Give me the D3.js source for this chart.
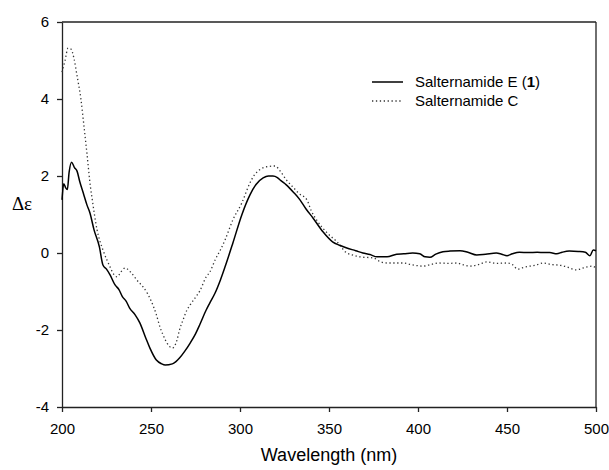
<!DOCTYPE html>
<html>
<head>
<meta charset="utf-8">
<script src="https://cdn.jsdelivr.net/npm/d3@7"></script>
<style>
  body { margin: 0; background: #fff; }
  text { font-family: "Liberation Sans", Arial, sans-serif; fill: #000; }
</style>
</head>
<body>
<div id="chart"></div>
<script>
// Salternamide E (1), solid line: [wavelength, delta epsilon]
var seriesE = [
    [200, 1.38], [201, 1.8], [202, 1.7], [203, 1.65], [204, 2.1], [205.4, 2.36], [207, 2.22],
    [208.5, 2.12], [210, 1.85], [212, 1.55], [214, 1.25], [215.7, 1.04], [218, 0.6], [221, 0.16],
    [223, -0.31], [225, -0.42], [227, -0.57], [229.8, -0.83], [232, -0.95], [234, -1.14],
    [236, -1.25], [238, -1.43], [241, -1.6], [243.8, -1.82], [247, -2.2], [249.4, -2.47],
    [253, -2.78], [256, -2.88], [258, -2.91], [262, -2.88], [264, -2.82], [266, -2.73],
    [269, -2.55], [272, -2.34], [275, -2.1], [277.5, -1.85], [281, -1.48], [283, -1.3],
    [286, -1.04], [289, -0.7], [291.6, -0.36], [296, 0.26], [301, 0.99], [305.6, 1.51],
    [309, 1.78], [313, 1.95], [316, 2.0], [318.5, 2.0], [321, 1.96], [323, 1.88], [326, 1.77],
    [330, 1.58], [333.7, 1.38], [337, 1.15], [341, 0.91], [346.6, 0.55], [352, 0.29],
    [356, 0.2], [360, 0.13], [365, 0.06], [369, 0.0], [373, -0.04], [377, -0.1],
    [382.6, -0.1], [388, -0.03], [392, -0.02], [397, 0.0], [401, -0.02], [404, -0.1],
    [406.7, -0.11], [410, -0.03], [414, 0.03], [418, 0.05], [423.6, 0.06], [428, 0.02],
    [433, -0.05], [438, -0.03], [444, 0.0], [447, -0.03], [450, -0.07], [453, -0.02],
    [457, 0.02], [462, 0.01], [467, 0.02], [471, 0.01], [474, 0.01], [478, -0.02],
    [481, 0.02], [485, 0.05], [490, 0.04], [494, 0.02], [496.6, -0.07], [498.5, 0.08],
    [500, 0.06]
];

// Salternamide C, dotted line
var seriesC = [
    [200, 4.7], [201.7, 5.0], [203.4, 5.32], [205, 5.3], [206.7, 5.06], [208.4, 4.62],
    [210.7, 3.97], [212.4, 3.27], [214, 2.59], [216, 1.71], [216.8, 1.45], [219.7, 0.6],
    [223, 0.08], [227, -0.36], [229, -0.55], [231, -0.62], [233, -0.5], [235.4, -0.39],
    [239, -0.52], [242, -0.7], [245.5, -0.88], [248, -1.05], [250.6, -1.3], [253, -1.6],
    [255, -1.92], [257, -2.15], [259, -2.34], [262, -2.47], [264.6, -2.26], [266, -2.0],
    [268, -1.74], [270, -1.5], [272, -1.35], [275, -1.15], [277.5, -0.98], [281, -0.62],
    [283, -0.5], [286, -0.18], [289, 0.08], [291.6, 0.34], [296, 0.86], [301, 1.3],
    [305.6, 1.82], [308, 2.02], [311, 2.16], [315, 2.24], [319.7, 2.26], [323, 2.1],
    [326, 1.9], [329.8, 1.71], [333, 1.55], [337.6, 1.38], [340, 1.1], [343, 0.86],
    [349, 0.52], [354.5, 0.29], [360, 0.0], [363, -0.05], [367.4, -0.1], [375, -0.13],
    [379, -0.23], [382.6, -0.26], [388, -0.26], [392, -0.26], [396, -0.3], [402.8, -0.34],
    [407, -0.3], [412, -0.26], [417, -0.27], [421.8, -0.26], [425, -0.3], [429, -0.34],
    [434, -0.3], [438.7, -0.23], [444, -0.27], [450, -0.26], [453, -0.3], [456, -0.42],
    [459, -0.38], [463, -0.34], [466, -0.32], [470, -0.26], [475, -0.3], [480, -0.32],
    [483.7, -0.36], [487, -0.42], [489, -0.44], [492, -0.4], [495, -0.36], [498, -0.34],
    [500, -0.4]
];

var xTicks = [200, 250, 300, 350, 400, 450, 500];
var yTicks = [-4, -2, 0, 2, 4, 6];

var width = 609, height = 470;
var margin = {left: 62, right: 13, top: 22, bottom: 63};

var svg = d3.select("#chart").append("svg")
    .attr("width", width)
    .attr("height", height);

var x = d3.scaleLinear().domain([200, 500]).range([margin.left, width - margin.right]);
var y = d3.scaleLinear().domain([-4, 6]).range([height - margin.bottom, margin.top]);

// frame: top and right edges
svg.append("line")
    .attr("x1", x(200)).attr("x2", x(500))
    .attr("y1", y(6)).attr("y2", y(6))
    .attr("stroke", "#222").attr("stroke-width", 1.3);
svg.append("line")
    .attr("x1", x(500)).attr("x2", x(500))
    .attr("y1", y(6)).attr("y2", y(-4))
    .attr("stroke", "#222").attr("stroke-width", 1.3);

var xAxis = svg.append("g")
    .attr("transform", "translate(0," + y(-4) + ")")
    .call(d3.axisBottom(x).tickValues(xTicks).tickSize(5).tickPadding(11).tickSizeOuter(0));

// plain hyphen for negatives, as in the original
var yAxis = svg.append("g")
    .attr("transform", "translate(" + x(200) + ",0)")
    .call(d3.axisLeft(y).tickValues(yTicks).tickFormat(function (d) { return String(d); })
        .tickSize(5).tickPadding(8).tickSizeOuter(0));

[xAxis, yAxis].forEach(function (a) {
    a.selectAll("path, line").attr("stroke", "#222").attr("stroke-width", 1.3);
    a.selectAll("text")
        .style("font-family", "'Liberation Sans', Arial, sans-serif")
        .style("font-size", "15px")
        .attr("fill", "#000");
});

// axis titles
svg.append("text")
    .attr("x", 329)
    .attr("y", 461)
    .attr("text-anchor", "middle")
    .style("font-size", "18px")
    .text("Wavelength (nm)");

svg.append("text")
    .attr("x", 22)
    .attr("y", 210)
    .attr("text-anchor", "middle")
    .style("font-family", "'Liberation Serif', 'Times New Roman', serif")
    .style("font-size", "19px")
    .text("Δε");

var line = d3.line()
    .x(function (d) { return x(d[0]); })
    .y(function (d) { return y(d[1]); })
    .curve(d3.curveMonotoneX);

svg.append("path")
    .datum(seriesC)
    .attr("d", line)
    .attr("fill", "none")
    .attr("stroke", "#333")
    .attr("stroke-width", 1.3)
    .attr("stroke-dasharray", "1.3,2.6");

svg.append("path")
    .datum(seriesE)
    .attr("d", line)
    .attr("fill", "none")
    .attr("stroke", "#000")
    .attr("stroke-width", 1.5);

// legend
var legend = svg.append("g").attr("transform", "translate(372,82)");
legend.append("line")
    .attr("x1", 0).attr("x2", 31).attr("y1", 0).attr("y2", 0)
    .attr("stroke", "#000").attr("stroke-width", 1.5);
var t1 = legend.append("text").attr("x", 43).attr("y", 5).style("font-size", "15px");
t1.append("tspan").text("Salternamide E (");
t1.append("tspan").style("font-weight", "bold").text("1");
t1.append("tspan").text(")");

legend.append("line")
    .attr("x1", 0).attr("x2", 31).attr("y1", 19).attr("y2", 19)
    .attr("stroke", "#333").attr("stroke-width", 1.3)
    .attr("stroke-dasharray", "1.3,2.6");
legend.append("text").attr("x", 43).attr("y", 24).style("font-size", "15px")
    .text("Salternamide C");
</script>
</body>
</html>
